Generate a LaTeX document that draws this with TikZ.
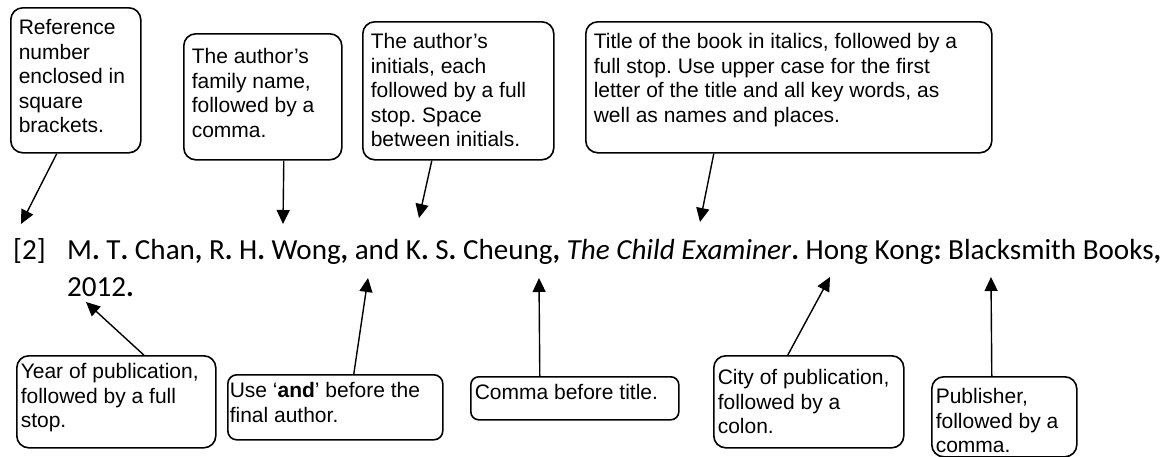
\documentclass[tikz,border=0pt]{standalone}
\usepackage{fontspec}
\setmainfont{Liberation Sans}
\newfontfamily\entryfont{Carlito}
\usetikzlibrary{arrows.meta, positioning}

% top-aligned text block inside a callout: width, height, lines
\newcommand{\notebody}[3]{\parbox[c][#2][t]{#1}{\strut#3}}
% bold punctuation in the reference entry
\newcommand{\bp}[1]{\textbf{#1}}

\begin{document}
\frenchspacing
\begin{tikzpicture}[x=1pt, y=-1pt,
    note/.style={draw, line width=1.6pt, rounded corners=12pt, anchor=north west,
      inner xsep=8pt, inner ysep=10pt, font=\fontsize{21}{24.5}\selectfont},
    lownote/.style={note, inner xsep=4pt, inner ysep=6pt},
    pointer/.style={line width=1.4pt, -{Triangle[length=14pt, width=13pt]}},
    entry/.style={anchor=base west, inner sep=0pt, font=\entryfont\fontsize{29.1}{37}\selectfont}]

  \useasboundingbox (0,0) rectangle (1173,456);

  % The reference entry
  \node[entry] (refno) at (13,259) {[2]};
  \node[entry] (authors) at (67,259) {M\bp{.} T\bp{.} Chan\bp{,} R\bp{.} H\bp{.} Wong\bp{,} and K\bp{.} S\bp{.} Cheung\bp{,} \textit{The Child Examiner}\bp{.} Hong Kong\bp{:} Blacksmith Books\bp{,}};
  \node[entry] (year) at (67,296) {2012\bp{.}};

  % Top row
  % Callout 1: reference number
  \node[note, minimum width=130pt, minimum height=145pt] (numnote) at (10,7)
    {\notebody{114pt}{125pt}{Reference\\number\\enclosed in\\square\\brackets.}};
  \coordinate (numtip) at (21,224);
  \draw[pointer] ([xshift=-19pt]numnote.south) -- (numtip);

  % Callout 2: family name
  \node[note, inner ysep=13pt, minimum width=158pt, minimum height=126pt] (famnote) at (183,33)
    {\notebody{142pt}{100pt}{The author’s\\family name,\\followed by a\\comma.}};
  \coordinate (famtip) at (283,224);
  \draw[pointer] ([xshift=21pt]famnote.south) -- (famtip);

  % Callout 3: initials
  \node[note, minimum width=191pt, minimum height=138pt] (ininote) at (362,21)
    {\notebody{175pt}{118pt}{The author’s\\initials, each\\followed by a full\\stop. Space\\between initials.}};
  \coordinate (initip) at (419,218);
  \draw[pointer] ([xshift=-26.5pt]ininote.south) -- (initip);

  % Callout 4: title
  \node[note, minimum width=406pt, minimum height=131pt] (titnote) at (585,21)
    {\notebody{390pt}{111pt}{Title of the book in italics, followed by a\\full stop. Use upper case for the first\\letter of the title and all key words, as\\well as names and places.}};
  \coordinate (tittip) at (700,222);
  \draw[pointer] ([xshift=-75pt]titnote.south) -- (tittip);

  % Bottom row
  % Callout 5: year
  \node[lownote, minimum width=199pt, minimum height=92pt] (yearnote) at (16,355)
    {\notebody{191pt}{80pt}{Year of publication,\\followed by a full\\stop.}};
  \coordinate (yeartip) at (86,302);
  \draw[pointer] ([xshift=27.5pt]yearnote.north) -- (yeartip);

  % Callout 6: and
  \node[lownote, rounded corners=9pt, inner xsep=2pt, minimum width=215pt, minimum height=65pt] (andnote) at (227,374)
    {\notebody{211pt}{53pt}{Use ‘\textbf{and}’ before the\\final author.}};
  \coordinate (andtip) at (368,278);
  \draw[pointer] ([xshift=18.5pt]andnote.north) -- (andtip);

  % Callout 7: comma
  \node[lownote, rounded corners=8pt, minimum width=208pt, minimum height=43pt] (comnote) at (470,376)
    {\notebody{200pt}{31pt}{Comma before title.}};
  \coordinate (comtip) at (539,278);
  \draw[pointer] ([xshift=-35pt]comnote.north) -- (comtip);

  % Callout 8: city
  \node[lownote, inner ysep=12pt, minimum width=190pt, minimum height=92pt] (citynote) at (713,355)
    {\notebody{182pt}{68pt}{City of publication,\\followed by a\\colon.}};
  \coordinate (citytip) at (830,277);
  \draw[pointer] ([xshift=-21pt]citynote.north) -- (citytip);

  % Callout 9: publisher
  \node[lownote, inner ysep=10pt, minimum width=145pt, minimum height=80pt] (pubnote) at (931,376)
    {\notebody{137pt}{60pt}{Publisher,\\followed by a\\comma.}};
  \coordinate (pubtip) at (991,277);
  \draw[pointer] ([xshift=-12.5pt]pubnote.north) -- (pubtip);
\end{tikzpicture}
\end{document}
